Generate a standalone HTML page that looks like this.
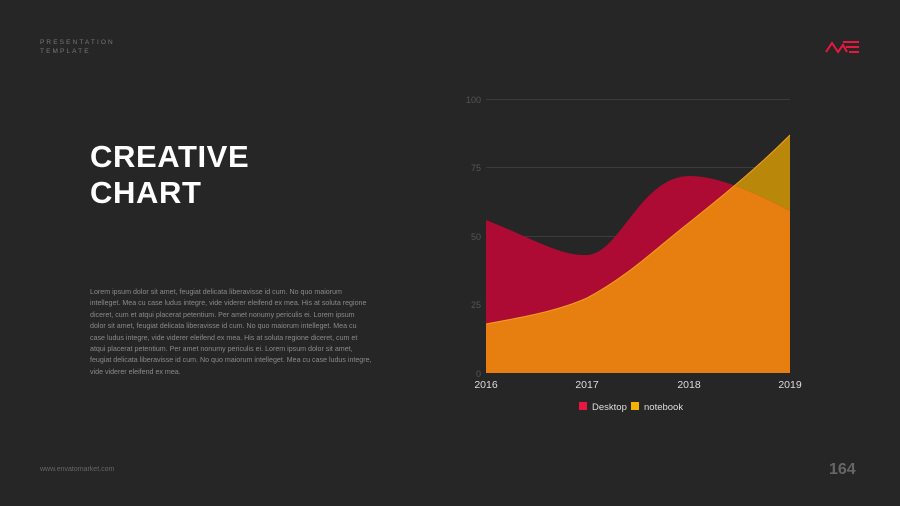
<!DOCTYPE html>
<html><head><meta charset="utf-8"><style>
html,body{margin:0;padding:0;background:#262626;}
body{width:900px;height:506px;position:relative;overflow:hidden;font-family:"Liberation Sans",sans-serif;}
.pt{position:absolute;left:40px;top:38px;color:#777;font-size:6.5px;letter-spacing:2.1px;line-height:9px;}
.title{position:absolute;left:90px;top:139px;color:#fff;font-weight:bold;font-size:31px;line-height:36px;letter-spacing:0.6px;}
.para{position:absolute;left:90px;top:287px;width:282px;color:#8a8a8a;font-size:7.1px;line-height:11.4px;}
.url{position:absolute;left:40px;top:466px;color:#666;font-size:7px;}
.num{position:absolute;left:829px;top:461px;color:#666;font-size:16px;font-weight:bold;}
</style></head><body>
<div class="pt">PRESENTATION<br>TEMPLATE</div>
<div class="title">CREATIVE<br>CHART</div>
<div class="para">Lorem ipsum dolor sit amet, feugiat delicata liberavisse id cum. No quo maiorum intelleget. Mea cu case ludus integre, vide viderer eleifend ex mea. His at soluta regione diceret, cum et atqui placerat petentium. Per amet nonumy periculis ei. Lorem ipsum dolor sit amet, feugiat delicata liberavisse id cum. No quo maiorum intelleget. Mea cu case ludus integre, vide viderer eleifend ex mea. His at soluta regione diceret, cum et atqui placerat petentium. Per amet nonumy periculis ei. Lorem ipsum dolor sit amet, feugiat delicata liberavisse id cum. No quo maiorum intelleget. Mea cu case ludus integre, vide viderer eleifend ex mea.</div>
<div class="url">www.envatomarket.com</div>
<div class="num">164</div>
<svg width="900" height="506" style="position:absolute;left:0;top:0">
<g stroke="#e8173f" stroke-width="2" fill="none">
<polyline points="826,52 832,43 838,52 843,45 847,52"/>
<line x1="843" y1="42" x2="859" y2="42"/><line x1="846" y1="47" x2="859" y2="47"/><line x1="849" y1="52" x2="859" y2="52"/>
</g>
<g stroke="#3c3c3c" stroke-width="1">
<line x1="486" y1="99.5" x2="790" y2="99.5"/><line x1="486" y1="167.5" x2="790" y2="167.5"/>
<line x1="486" y1="236.5" x2="790" y2="236.5"/><line x1="486" y1="304.5" x2="790" y2="304.5"/>
</g>
<g fill="#555" font-size="9" text-anchor="end">
<text x="481" y="103">100</text><text x="481" y="171">75</text><text x="481" y="240">50</text><text x="481" y="308">25</text><text x="481" y="377">0</text>
</g>
<defs><clipPath id="dc"><path d="M486,373 L486,220 C536,240 560,256 587,255 C620,254 640,176 690,176 C720,176 760,195 790,211 L790,373 Z"/></clipPath></defs>
<path d="M486,373 L486,324 C530,316 560,310 587,298 C630,275 660,245 690,222 C730,190 760,165 790,135 L790,373 Z" fill="#b9870a"/>
<path d="M486,373 L486,220 C536,240 560,256 587,255 C620,254 640,176 690,176 C720,176 760,195 790,211 L790,373 Z" fill="#ad0b34"/>
<path clip-path="url(#dc)" d="M486,373 L486,324 C530,316 560,310 587,298 C630,275 660,245 690,222 C730,190 760,165 790,135 L790,373 Z" fill="#e67e10"/>
<path d="M486,324 C530,316 560,310 587,298 C630,275 660,245 690,222 C730,190 760,165 790,135" fill="none" stroke="#f0a020" stroke-width="1"/>
<g fill="#ddd" font-size="10.5" text-anchor="middle">
<text x="486" y="388">2016</text><text x="587" y="388">2017</text><text x="689" y="388">2018</text><text x="790" y="388">2019</text>
</g>
<rect x="579" y="402" width="8" height="8" fill="#e8173f"/>
<text x="592" y="410" fill="#ddd" font-size="9.5">Desktop</text>
<rect x="631" y="402" width="8" height="8" fill="#f5b000"/>
<text x="644" y="410" fill="#ddd" font-size="9.5">notebook</text>
</svg>
</body></html>
